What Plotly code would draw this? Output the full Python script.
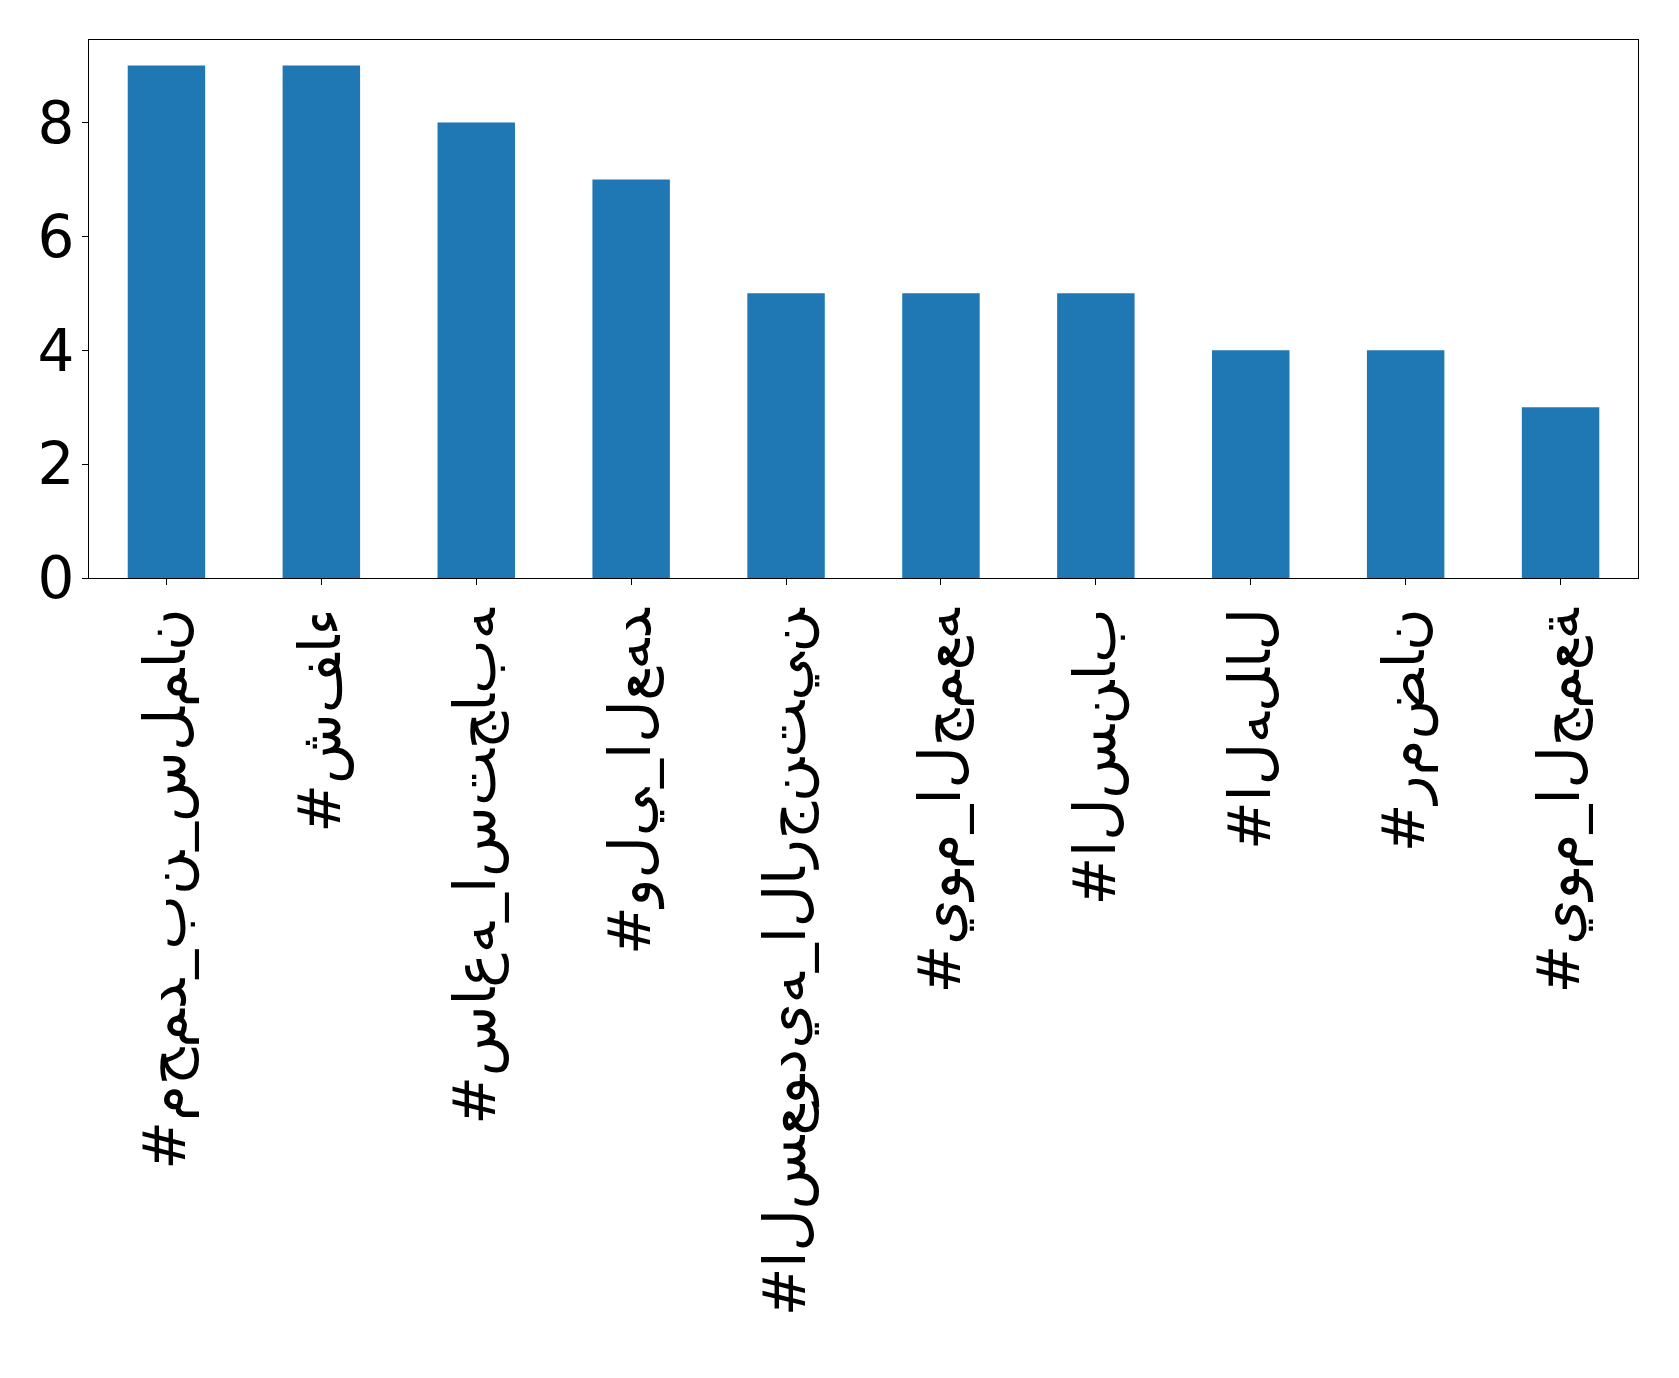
import plotly.graph_objects as go

hashtags = [
    "#محمد_بن_سلمان",
    "#شفاء",
    "#ساعه_استجابه",
    "#ولي_العهد",
    "#السعوديه_الارجنتين",
    "#يوم_الجمعه",
    "#السناب",
    "#الهلال",
    "#رمضان",
    "#يوم_الجمعة",
]
counts = [9, 9, 8, 7, 5, 5, 5, 4, 4, 3]
y_ticks = [0, 2, 4, 6, 8]


def unshaped(s):
    # left-to-right, unjoined letters, as in the original rendering
    return "\u202d" + "\u200c".join(s) + "\u202c"


labels = [unshaped(h) for h in hashtags]
xpos = list(range(len(hashtags)))

fig = go.Figure(go.Bar(
    x=xpos, y=counts, width=0.5,
    marker=dict(color="#1f77b4", line=dict(width=0)),
))

font = dict(family="DejaVu Sans", size=58, color="black")

fig.update_layout(
    width=1671, height=1370,
    margin=dict(l=81, r=41, t=32, b=800, autoexpand=False),
    paper_bgcolor="white", plot_bgcolor="white",
    showlegend=False,
    font=font,
)
fig.update_xaxes(
    range=[-0.5, len(hashtags) - 0.5], automargin=False,
    tickmode="array", tickvals=xpos, ticktext=labels,
    tickangle=-90, tickfont=font,
    showline=True, linecolor="black", linewidth=1.2, mirror=True,
    ticks="outside", ticklen=6, tickwidth=1.2, tickcolor="black",
    showgrid=False, zeroline=False,
)
fig.update_yaxes(
    range=[0, 9.45], automargin=False,
    tickmode="array", tickvals=y_ticks, ticktext=[str(v) for v in y_ticks],
    tickfont=font, ticklabelstandoff=-4,
    showline=True, linecolor="black", linewidth=1.2, mirror=True,
    ticks="outside", ticklen=6, tickwidth=1.2, tickcolor="black",
    showgrid=False, zeroline=False,
)

fig.write_html("out.html")
